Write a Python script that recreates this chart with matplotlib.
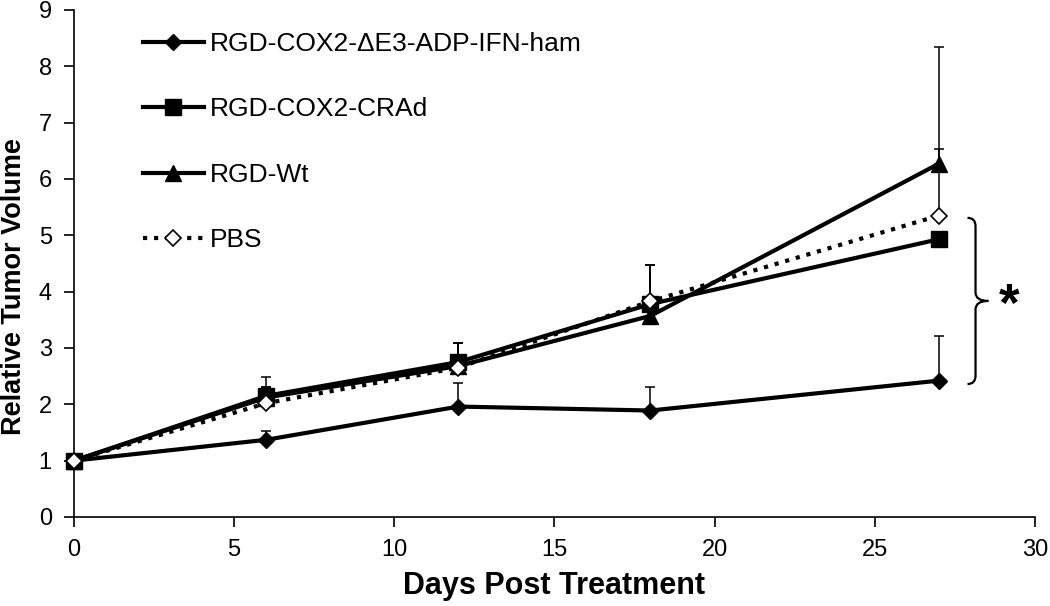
import numpy as np
import matplotlib
matplotlib.use("Agg")
import matplotlib.pyplot as plt
from matplotlib.path import Path
from matplotlib.patches import PathPatch

plt.rcParams['font.family'] = ['Liberation Sans', 'DejaVu Sans']

# datos
dias = [0, 6, 12, 18, 27]
ifn = [1.0, 1.37, 1.96, 1.89, 2.42]
ifn_err = [0.0, 0.16, 0.41, 0.41, 0.79]
crad = [1.0, 2.15, 2.75, 3.78, 4.93]
crad_err = [0.0, 0.33, 0.34, 0.69, 0.0]
wt = [1.0, 2.12, 2.68, 3.57, 6.27]
wt_err = [0.0, 0.19, 0.41, 0.90, 2.07]
pbs = [1.0, 2.02, 2.65, 3.83, 5.35]
pbs_err = [0.0, 0.29, 0.44, 0.64, 1.18]

etiquetas = ["RGD-COX2-ΔE3-ADP-IFN-ham", "RGD-COX2-CRAd", "RGD-Wt", "PBS"]

fig = plt.figure(figsize=(10.5, 6.06), dpi=100)
ax = fig.add_axes([0.0705, 0.1469, 0.915, 0.8366])

# barras de error (solo hacia arriba)
for y, e in [(ifn, ifn_err), (crad, crad_err), (wt, wt_err), (pbs, pbs_err)]:
    ax.errorbar(dias, y, yerr=[np.zeros(len(e)), e], fmt='none', ecolor='black',
                elinewidth=1.1, capsize=3.6, capthick=1.1, zorder=2)

ax.plot(dias, ifn, color='black', lw=3, marker='D', ms=8, mfc='black', label=etiquetas[0],
        zorder=3, clip_on=False)
ax.plot(dias, crad, color='black', lw=3, marker='s', ms=11.5, mfc='black', label=etiquetas[1],
        zorder=3, clip_on=False)
ax.plot(dias, wt, color='black', lw=3, marker='^', ms=11.5, mfc='black', label=etiquetas[2],
        zorder=3, clip_on=False)
ax.plot(dias, pbs, color='black', lw=3, ls=':', marker='D', ms=8, mfc='white', mec='black',
        mew=1.2, label=etiquetas[3], zorder=4, clip_on=False)

ax.set_xlim(0, 30)
ax.set_ylim(0, 9)
ax.set_xticks([0, 5, 10, 15, 20, 25, 30])
ax.set_yticks(range(0, 10))
ax.tick_params(labelsize=17, direction='out', length=7, width=1.2, pad=9)
ax.spines['top'].set_visible(False)
ax.spines['right'].set_visible(False)
ax.spines['left'].set_linewidth(1.2)
ax.spines['bottom'].set_linewidth(1.2)
ax.set_xlabel('Days Post Treatment', fontsize=22, fontweight='bold', labelpad=7)
ax.set_ylabel('Relative Tumor Volume', fontsize=19.5, fontweight='bold')
ax.yaxis.set_label_coords(-0.049, 0.4536)

leg = ax.legend(loc='upper left', bbox_to_anchor=(143 / 1050, 574 / 606),
                bbox_transform=fig.transFigure, frameon=False, fontsize=19,
                handlelength=2.3, handletextpad=0.25, labelspacing=1.57,
                borderaxespad=0, borderpad=0)

# llave y asterisco
y0, y1 = 2.36, 5.31
ym = (y0 + y1) / 2
xa, xb, xc = 27.9, 28.15, 28.55
verts = [(xa, y1), (xb, y1), (xb, y1 - 0.15),
         (xb, ym + 0.15), (xb, ym), (xc, ym),
         (xb, ym), (xb, ym - 0.15),
         (xb, y0 + 0.15), (xb, y0), (xa, y0)]
codes = [Path.MOVETO, Path.CURVE3, Path.CURVE3,
         Path.LINETO, Path.CURVE3, Path.CURVE3,
         Path.CURVE3, Path.CURVE3,
         Path.LINETO, Path.CURVE3, Path.CURVE3]
ax.add_patch(PathPatch(Path(verts, codes), fill=False, lw=1.6, color='black', clip_on=False))
ax.text(29.2, ym - 0.1, '*', fontsize=38, fontweight='bold', ha='center', va='center', clip_on=False)

fig.savefig('out.png', dpi=100)
